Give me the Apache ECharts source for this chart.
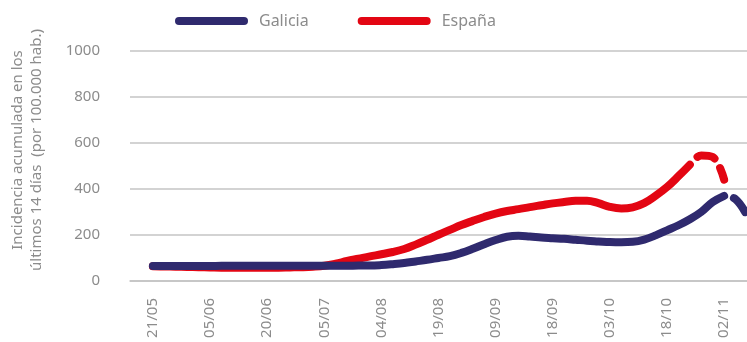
<!DOCTYPE html>
<html>
<head>
<meta charset="utf-8">
<script src="https://cdn.jsdelivr.net/npm/echarts@6/dist/echarts.min.js"></script>
<style>
html,body{margin:0;padding:0;background:#fff;}
#chart{width:747px;height:342px;}
</style>
</head>
<body>
<div id="chart"></div>
<script>
// Tick labels on the category axis (one every 5 steps, starting at step 2)
const tickLabels = ['21/05','05/06','20/06','05/07','04/08','19/08','09/09','18/09','03/10','18/10','02/11'];
const seriesNames = ['Galicia', 'España'];
const yTicks = [0, 200, 400, 600, 800, 1000];

// Values per step (55 steps); null = no data
const galicia = [null, null,
  65,65,65,65,65,65,66,66,66,66,66,66,66,66,66,66,66,66,
  67,67,69,73,78,85,92,100,108,122,140,160,178,192,196,193,189,186,183,179,175,172,169,168,170,180,198,220,242,268,300,343,370,
  null, null];
const galiciaProvisional = [null,null,null,null,null,null,null,null,null,null,null,null,null,null,null,null,null,null,null,null,
  null,null,null,null,null,null,null,null,null,null,null,null,null,null,null,null,null,null,null,null,null,null,null,null,null,null,null,null,null,null,null,null,
  370,355,285];
const espana = [null, null,
  64,63,62,61,60,59,58,58,58,58,58,58,59,60,62,66,
  75,87,97,107,116,126,139,158,179,201,222,243,261,278,293,304,312,321,329,337,343,348,349,338,322,315,320,338,370,408,455,505,
  null,null,null,null,null];
const espanaProvisional = [null,null,null,null,null,null,null,null,null,null,null,null,null,null,null,null,null,null,null,null,
  null,null,null,null,null,null,null,null,null,null,null,null,null,null,null,null,null,null,null,null,null,null,null,null,null,null,null,null,null,
  505,545,538,440,
  null,null];

const leadSteps = 2, stepsPerLabel = 5, totalSteps = galicia.length;
const categories = [];
for (let i = 0; i < totalSteps; i++) {
  const k = i - leadSteps;
  categories.push(k >= 0 && k % stepsPerLabel === 0 && tickLabels[k / stepsPerLabel] ? tickLabels[k / stepsPerLabel] : ('s' + i));
}

const navy = '#2f2a6e', red = '#e30613', grey = '#8c8c8c', gridGrey = '#c4c4c4';
const font = 'Noto Sans';
const capsule = 'path://M4,0 L69,0 A4,4 0 0 1 69,8 L4,8 A4,4 0 0 1 4,0 Z';

const chart = echarts.init(document.getElementById('chart'));
const lineBase = { type: 'line', smooth: 0.4, symbol: 'none', showSymbol: false, connectNulls: false, silent: true };
chart.setOption({
  animation: false,
  textStyle: { fontFamily: font },
  legend: {
    data: seriesNames,
    left: 175, top: 13, padding: 0,
    icon: capsule,
    itemWidth: 73, itemHeight: 8, itemGap: 49,
    textStyle: { color: grey, fontSize: 16, fontFamily: font, padding: [0, 0, 0, 6] }
  },
  grid: { left: 130, right: -4, top: 50.7, bottom: 61, containLabel: false },
  graphic: [{
    type: 'text',
    x: 27, y: 150, rotation: Math.PI / 2,
    style: {
      text: 'Incidencia acumulada en los\núltimos 14 días  (por 100.000 hab.)',
      fill: grey, font: '15px "Noto Sans"', align: 'center', verticalAlign: 'middle', lineHeight: 19
    }
  }],
  xAxis: {
    type: 'category', data: categories, boundaryGap: false,
    axisLine: { lineStyle: { color: gridGrey, width: 1.5 } },
    axisTick: { show: false },
    axisLabel: {
      interval: 0, rotate: 90, margin: 17, color: grey, fontSize: 15, fontFamily: font,
      formatter: v => (tickLabels.indexOf(v) >= 0 ? v : '')
    },
    splitLine: { show: false }
  },
  yAxis: {
    type: 'value', min: yTicks[0], max: yTicks[yTicks.length - 1], interval: 200,
    axisLine: { show: false }, axisTick: { show: false },
    axisLabel: { margin: 30, color: grey, fontSize: 15, fontFamily: font, formatter: v => String(v) },
    splitLine: { lineStyle: { color: gridGrey, width: 1.5 } }
  },
  series: [
    Object.assign({}, lineBase, { name: seriesNames[0], data: galicia, color: navy, z: 3,
      lineStyle: { width: 8, color: navy, cap: 'round', join: 'round' } }),
    Object.assign({}, lineBase, { name: seriesNames[0], data: galiciaProvisional, color: navy, z: 3,
      lineStyle: { width: 8, color: navy, cap: 'round', join: 'round', type: [18, 10], dashOffset: 18 } }),
    Object.assign({}, lineBase, { name: seriesNames[1], data: espana, color: red, z: 2,
      lineStyle: { width: 8, color: red, cap: 'round', join: 'round' } }),
    Object.assign({}, lineBase, { name: seriesNames[1], data: espanaProvisional, color: red, z: 2,
      lineStyle: { width: 8, color: red, cap: 'round', join: 'round', type: [18, 11], dashOffset: 18 } })
  ]
});
</script>
</body>
</html>
